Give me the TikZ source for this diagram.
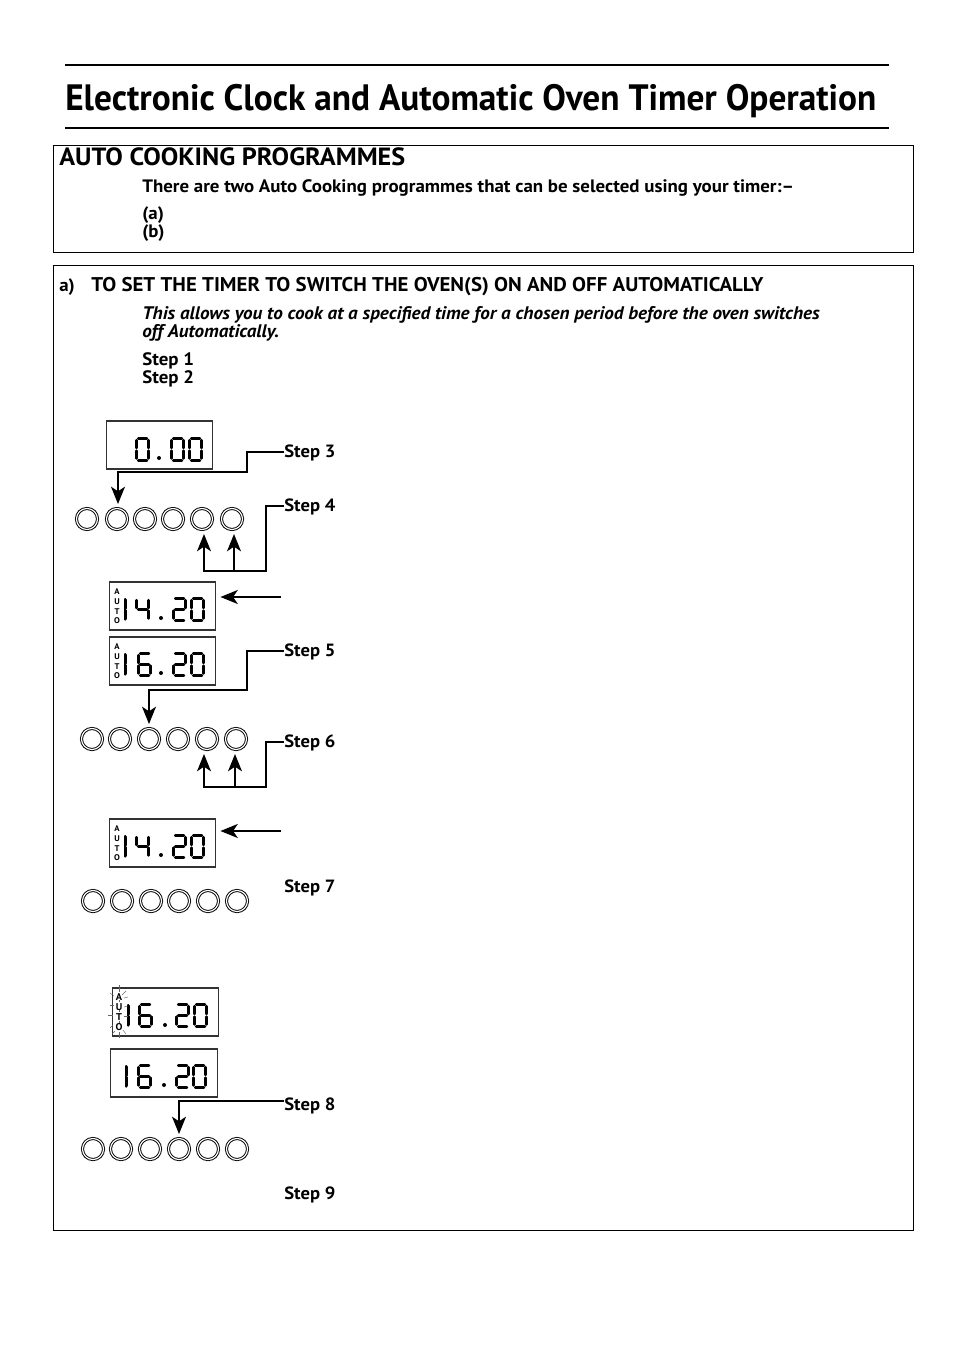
\documentclass[tikz,border=0pt]{standalone}
\usepackage{fontspec}
\setmainfont[FakeStretch=1.05]{PT Sans}
\usetikzlibrary{arrows.meta}
\tikzset{
  txt/.style={anchor=base west,inner sep=0pt,font=\fontsize{13.5}{15}\selectfont\bfseries},
  steplabel/.style={anchor=west,inner sep=0pt,text height=10pt,text depth=2pt,font=\fontsize{13.3}{15}\selectfont\bfseries},
  frame/.style={draw=black,line width=0.7pt},
  rule/.style={draw=black,line width=1.2pt},
  lcd/.style={draw=black!80,line width=0.9pt,minimum width=80pt,minimum height=36pt,inner sep=0pt,fill=white},
  btn/.style={circle,draw=black,double=white,double distance=0.9pt,line width=0.7pt,minimum size=15.8pt,inner sep=0pt},
  conn/.style={draw=black,line width=1.4pt},
  arr/.style={conn,shorten >=3pt,-{Stealth[length=13pt,width=10.5pt,inset=3.5pt]}},
  seg/.style={draw=black,line width=2pt,line cap=round},
  segone/.style={draw=black,line width=2.7pt,line cap=round},
  autotxt/.style={inner sep=0pt,align=center,font=\fontsize{6.2}{7.2}\selectfont\bfseries},
  ray/.style={draw=black!60,line width=0.3pt}
}
\newcommand\segA{\draw[seg](1.9,0)--(10.6,0);}
\newcommand\segB{\draw[seg](12.5,1.9)--(12.5,9.6);}
\newcommand\segC{\draw[seg](12.5,12.4)--(12.5,20.1);}
\newcommand\segD{\draw[seg](1.9,22)--(10.6,22);}
\newcommand\segE{\draw[seg](0,12.4)--(0,20.1);}
\newcommand\segF{\draw[seg](0,1.9)--(0,9.6);}
\newcommand\segG{\draw[seg](1.9,11)--(10.6,11);}
\newcommand\digizero{\segA\segB\segC\segD\segE\segF}
\newcommand\digitwo{\segA\segB\segG\segE\segD}
\newcommand\digifour{\segF\segG\segB\segC}
\newcommand\digisix{\segA\segF\segG\segE\segC\segD}
\newcommand\digione{\draw[segone](1,1.5)--(1,9.9);\draw[segone](1,12.1)--(1,20.5);}
\newcommand\dgt[3]{\begin{scope}[shift={(#1+1.3,#2+1.3)}]\csname digi#3\endcsname\end{scope}}
\newcommand\dotp[2]{\fill (#1,#2) circle (2);}
\newcommand\btnrow[7]{%
  \foreach \n/\x in {1/#2,2/#3,3/#4,4/#5,5/#6,6/#7}{\node[btn] (#1\n) at (\x,\btny) {};}}
\begin{document}
\begin{tikzpicture}[x=0.75pt,y=-0.75pt]
\useasboundingbox (0,0) rectangle (954,1351);
\fill[white] (0,0) rectangle (954,1351);
% title
\draw[rule] (65,65) -- (889,65);
\draw[rule] (65,128) -- (889,128);
\node[anchor=base west,inner sep=0pt,font=\fontsize{27.5}{30}\selectfont\bfseries] (title) at (65,111) {\scalebox{0.917}[1]{Electronic Clock and Automatic Oven Timer Operation}};
% box 1
\draw[frame] (53,145) rectangle (913,252);
\node[txt,font=\fontsize{18.7}{20}\selectfont\bfseries] (h1) at (59,166) {AUTO COOKING PROGRAMMES};
\node[txt] (t1) at (142,193) {There are two Auto Cooking programmes that can be selected using your timer:–};
\node[txt] (t2) at (142,220) {(a)};
\node[txt] (t3) at (142,238) {(b)};
% box 2
\draw[frame] (53,265) rectangle (913,1230);
\node[txt] (t4) at (59,292) {a)};
\node[txt,font=\fontsize{14.9}{17}\selectfont\bfseries] (t5) at (91,292) {TO SET THE TIMER TO SWITCH THE OVEN(S) ON AND OFF AUTOMATICALLY};
\node[txt,font=\fontsize{13.65}{15}\selectfont\bfseries\itshape] (t6) at (142,320) {This allows you to cook at a specified time for a chosen period before the oven switches};
\node[txt,font=\fontsize{13.65}{15}\selectfont\bfseries\itshape] (t7) at (142,338) {off Automatically.};
\node[txt] (t8) at (142,366) {Step 1};
\node[txt] (t9) at (142,383.3) {Step 2};
% step labels
\node[steplabel] (s3) at (284,452) {Step 3};
\node[steplabel] (s4) at (284,506) {Step 4};
\node[steplabel] (s5) at (284,651) {Step 5};
\node[steplabel] (s6) at (284,742) {Step 6};
\node[steplabel] (s7) at (284,887) {Step 7};
\node[steplabel] (s8) at (284,1105) {Step 8};
\node[steplabel] (s9) at (284,1194) {Step 9};
% displays
\node[lcd] (d1) at (159.5,445) {};
\dgt{135}{437}{zero}\dotp{159}{458}\dgt{170}{437}{zero}\dgt{188}{437}{zero}
\node[lcd] (d2) at (162.5,606) {};
\node[autotxt] (au2) at (117,606.5) {A\\U\\T\\O};
\dgt{123}{597}{one}\dgt{135}{597}{four}\dotp{161}{618}\dgt{172}{597}{two}\dgt{190}{597}{zero}
\node[lcd] (d3) at (162.5,661) {};
\node[autotxt] (au3) at (117,661.5) {A\\U\\T\\O};
\dgt{123}{652}{one}\dgt{137}{652}{six}\dotp{161}{673}\dgt{172}{652}{two}\dgt{190}{652}{zero}
\node[lcd] (d4) at (162.5,843) {};
\node[autotxt] (au4) at (117,843.5) {A\\U\\T\\O};
\dgt{123}{834}{one}\dgt{135}{834}{four}\dotp{161}{855}\dgt{172}{834}{two}\dgt{190}{834}{zero}
\node[lcd] (d5) at (165.5,1012) {};
\node[autotxt,font=\fontsize{7.4}{7.3}\selectfont\bfseries] (au5) at (119,1012) {A\\U\\T\\O};
\dgt{126}{1003}{one}\dgt{138}{1003}{six}\dotp{165}{1025}\dgt{175}{1003}{two}\dgt{193}{1003}{zero}
\foreach \ya/\yb in {985/992,1000/1002,1010/1012,1021/1023,1032/1038}{\draw[ray] (119,\ya) -- (119,\yb);}
\foreach \xa/\ya/\xb/\yb in {110/993/114/996,126/991/122/995,110/1005/114/1005,108/1015/113/1015,124/1007/128/1006,124/1016/128/1016,110/1028/113/1025,126/1034/123/1030,112/1034/115/1031,124/998/128/997}{\draw[ray] (\xa,\ya) -- (\xb,\yb);}
\node[lcd] (d6) at (164,1073) {};
\dgt{124}{1064}{one}\dgt{137}{1064}{six}\dotp{164}{1085}\dgt{175}{1064}{two}\dgt{192}{1064}{zero}
% buttons
\def\btny{519}\btnrow{ra}{87}{117}{145}{173}{202}{232}
\def\btny{739}\btnrow{rb}{92}{120}{149}{178}{207}{236}
\def\btny{901}\btnrow{rc}{93}{122}{151}{179}{208}{237}
\def\btny{1149}\btnrow{re}{93}{121}{150}{179}{208}{237}
% connector joints
\coordinate (j3) at (118,472);
\coordinate (j4a) at (204,571);
\coordinate (j4b) at (234,571);
\coordinate (j5) at (149,690);
\coordinate (j6a) at (204,787);
\coordinate (j6b) at (235,787);
\coordinate (j8) at (179,1101);
\coordinate (f8) at (284,1101);
\coordinate (p2) at (281,597);
\coordinate (p4) at (281,831);
% connectors
\draw[arr] (s3.west) -- (247,452) -- (247,472) -- (j3) -- (j3 |- ra2.north);
\draw[arr] (s4.west) -- (266,506) -- (266,571) -- (j4a) -- (j4a |- ra5.south);
\draw[arr] (j4b) -- (j4b |- ra6.south);
\draw[arr] (p2) -- (d2.east |- p2);
\draw[arr] (s5.west) -- (247,651) -- (247,690) -- (j5) -- (j5 |- rb3.north);
\draw[arr] (s6.west) -- (266,742) -- (266,787) -- (j6a) -- (j6a |- rb5.south);
\draw[arr] (j6b) -- (j6b |- rb6.south);
\draw[arr] (p4) -- (d4.east |- p4);
\draw[arr] (f8) -- (j8) -- (j8 |- re4.north);
\end{tikzpicture}
\end{document}
